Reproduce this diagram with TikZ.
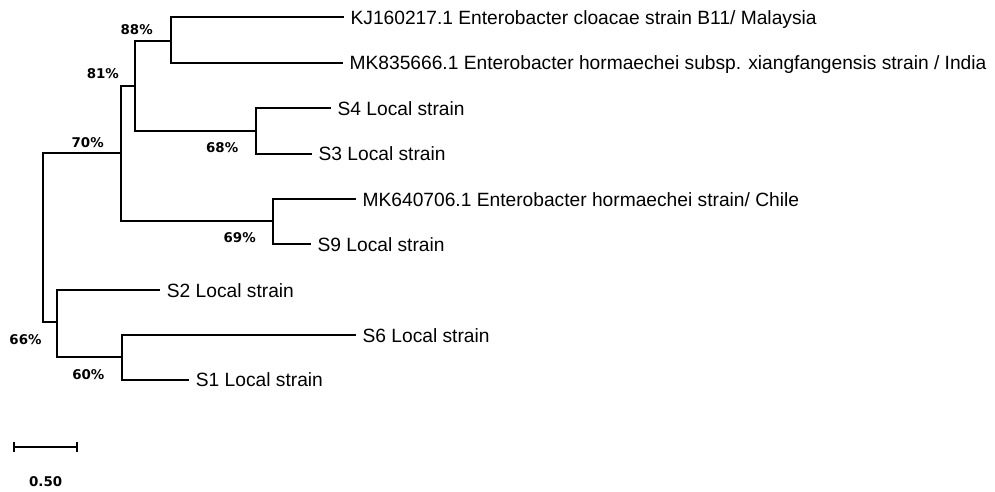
\documentclass[tikz,border=0pt]{standalone}
\usepackage{fontspec}
\setmainfont{Liberation Sans}
\newfontfamily\bootfont{DejaVu Sans}
\usetikzlibrary{arrows.meta}
\begin{document}
\begin{tikzpicture}[x=0.5pt,y=-0.5pt,
  branch/.style={line width=\treelw,line cap=rect},
  leaf/.style={anchor=base west,inner sep=0pt,xshift=3.6pt,yshift=-3.5pt,
    font=\fontsize{9.6}{11}\selectfont},
  boot/.style={anchor=base,inner sep=0pt,font=\bootfont\bfseries\fontsize{6.7}{8}\selectfont}]%
% tree drawn in pixel units of the 995x492 figure
\ifx\treelw\undefined\newdimen\treelw\fi
\treelw=1pt
\useasboundingbox[fill=white] (0,0) rectangle (995,492);
\coordinate (root) at (42.7,237.5);
\coordinate (n70) at (120.7,153.3);
\coordinate (n66) at (57,321.7);
\coordinate (n81) at (134.7,86);
\coordinate (n69) at (273.3,221);
\coordinate (n88) at (171,40.7);
\coordinate (n68) at (256.3,130.7);
\coordinate (n60) at (122,357.3);
\coordinate (kj) at (343,17.5);
\coordinate (mk8) at (342,62.7);
\coordinate (s4) at (330,108.3);
\coordinate (s3) at (311,154);
\coordinate (mk6) at (355,199.3);
\coordinate (s9) at (310,244.3);
\coordinate (s2) at (159.3,290);
\coordinate (s6) at (355,335);
\coordinate (s1) at (188.3,379.5);
\draw[branch] (n70) -| (root) |- (n66);
\draw[branch] (n81) -| (n70) |- (n69);
\draw[branch] (n88) -| (n81) |- (n68);
\draw[branch] (kj) -| (n88) |- (mk8);
\draw[branch] (s4) -| (n68) |- (s3);
\draw[branch] (mk6) -| (n69) |- (s9);
\draw[branch] (s2) -| (n66) |- (n60);
\draw[branch] (s6) -| (n60) |- (s1);
\node[leaf] (kjl) at (kj) {KJ160217.1 Enterobacter cloacae strain B11/ Malaysia};
\node[leaf] (mk8l) at (mk8) {MK835666.1 Enterobacter hormaechei subsp. xiangfangensis strain / India};
\node[leaf] (s4l) at (s4) {S4 Local strain};
\node[leaf] (s3l) at (s3) {S3 Local strain};
\node[leaf] (mk6l) at (mk6) {MK640706.1 Enterobacter hormaechei strain/ Chile};
\node[leaf] (s9l) at (s9) {S9 Local strain};
\node[leaf] (s2l) at (s2) {S2 Local strain};
\node[leaf] (s6l) at (s6) {S6 Local strain};
\node[leaf] (s1l) at (s1) {S1 Local strain};
\node[boot] (b88) at (136.7,34.1) {88\%};
\node[boot] (b81) at (102.8,78.9) {81\%};
\node[boot] (b70) at (87.7,147.3) {70\%};
\node[boot] (b68) at (222.2,152.1) {68\%};
\node[boot] (b69) at (239.7,242.9) {69\%};
\node[boot] (b66) at (25.5,344.4) {66\%};
\node[boot] (b60) at (88.3,379.1) {60\%};
\coordinate (sbl) at (13.3,447.3);
\coordinate (sbr) at (78.3,447.3);
\draw[branch,line cap=butt,{Bar[width=5pt]}-{Bar[width=5pt]}] (sbl) -- (sbr);
\node[boot] (sbt) at (45.7,486.8) {0.50};
\end{tikzpicture}
\end{document}
